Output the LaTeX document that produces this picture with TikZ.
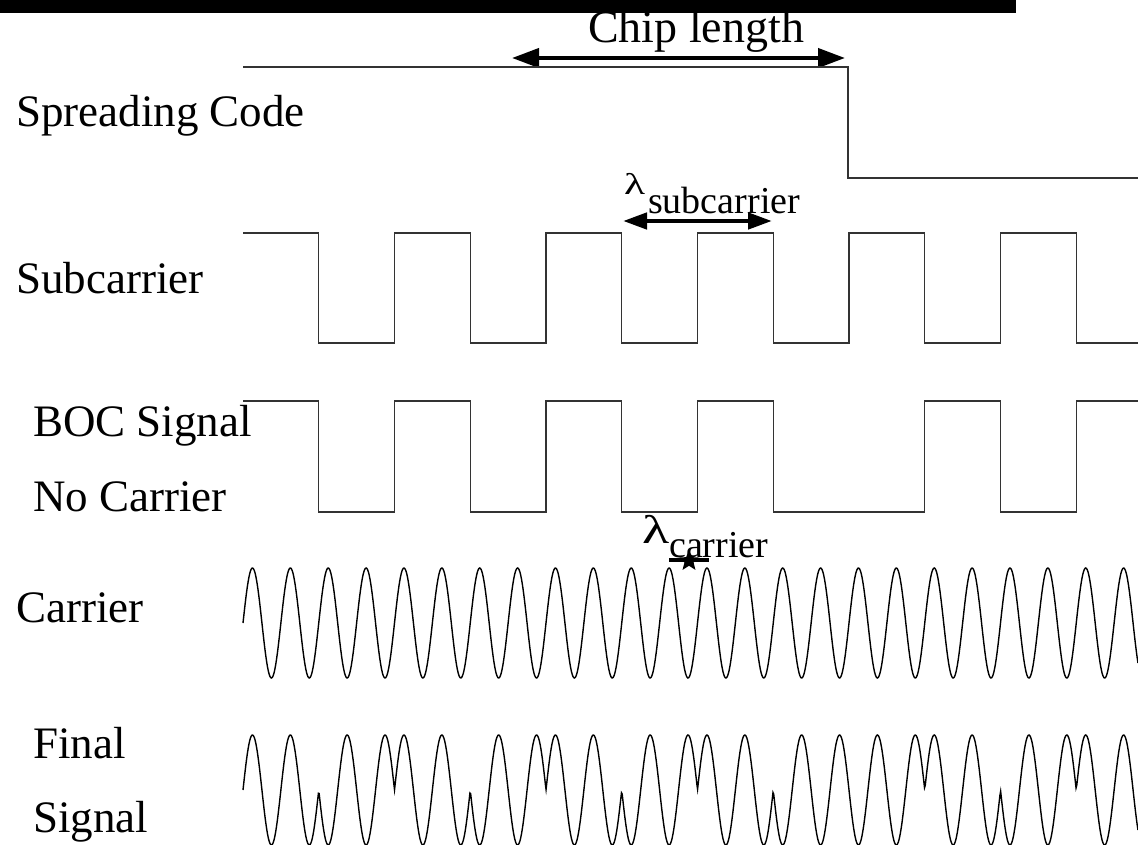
\documentclass[tikz,border=0pt]{standalone}
\usepackage{fontspec}
\setmainfont{Liberation Serif}
\usetikzlibrary{arrows.meta,shapes.geometric}
\begin{document}
\begin{tikzpicture}[x=1pt,y=-1pt,
  lbl/.style={anchor=base west,inner sep=0pt,font=\fontsize{45}{54}\selectfont},
  wave/.style={line width=1.4pt,black!80,line join=miter},
  sig/.style={line width=1.4pt,black},
  bigdim/.style={line width=4pt,{Triangle[length=27pt,width=19pt]}-{Triangle[length=27pt,width=19pt]}},
  smalldim/.style={line width=4.5pt,{Triangle[length=24pt,width=16pt]}-{Triangle[length=24pt,width=16pt]}},
  lam/.style={anchor=base west,inner sep=0pt},
]
\useasboundingbox (0,0) rectangle (1138,845);
\fill[black] (0,0) rectangle (1016,13);

% labels
\node[lbl] (sc) at (16,127) {Spreading Code};
\node[lbl] (sub) at (16,293) {Subcarrier};
\node[lbl] (boc1) at (33,436) {BOC Signal};
\node[lbl] (boc2) at (33,511) {No Carrier};
\node[lbl] (car) at (16,622) {Carrier};
\node[lbl] (fin1) at (33,758) {Final};
\node[lbl] (fin2) at (33,832) {Signal};
\node[lbl,font=\fontsize{46}{54}\selectfont] (chip) at (588,43) {Chip length};

% lambda labels
\node[lam,font=\fontsize{30}{36}\selectfont] (lsub) at (624,195) {\scalebox{1.45}[1]{λ}};
\node[lam,font=\fontsize{38}{46}\selectfont] (lsubtxt) at (648,214) {subcarrier};
\node[lam,font=\fontsize{40}{48}\selectfont] (lcar) at (642,543) {\scalebox{1.4}[1]{λ}};
\node[lam,font=\fontsize{38}{46}\selectfont] (lcartxt) at (669,557) {carrier};

% dimension arrows
\coordinate (chipL) at (512,58);
\coordinate (chipR) at (845,58);
\draw[bigdim] (chipL) -- (chipR);
\coordinate (subL) at (623,221);
\coordinate (subR) at (772,221);
\draw[smalldim] (subL) -- (subR);
\coordinate (carL) at (669,560);
\coordinate (carR) at (709,560);
\draw[line width=4pt] (carL) -- (carR);
\node[star,star points=5,star point ratio=2.3,fill=black,inner sep=0pt,minimum size=22pt] (carS) at (689,561) {};

% spreading code
\draw[wave] (243,67) -- (848,67) -- (848,178) -- (1138,178);

% subcarrier
\draw[wave] (243,233) -- (318.75,233) -- (318.75,343) -- (394.5,343) -- (394.5,233)
  -- (470.25,233) -- (470.25,343) -- (546,343) -- (546,233) -- (621.75,233)
  -- (621.75,343) -- (697.5,343) -- (697.5,233) -- (773.25,233) -- (773.25,343)
  -- (849,343) -- (849,233) -- (924.75,233) -- (924.75,343) -- (1000.5,343)
  -- (1000.5,233) -- (1076.25,233) -- (1076.25,343) -- (1138,343);

% BOC signal
\draw[wave] (243,401) -- (318.75,401) -- (318.75,512) -- (394.5,512) -- (394.5,401)
  -- (470.25,401) -- (470.25,512) -- (546,512) -- (546,401) -- (621.75,401)
  -- (621.75,512) -- (697.5,512) -- (697.5,401) -- (773.25,401) -- (773.25,512)
  -- (924.75,512) -- (924.75,401) -- (1000.5,401) -- (1000.5,512)
  -- (1076.25,512) -- (1076.25,401) -- (1138,401);

% carrier
\draw[sig] plot[domain=243:1138,samples=1200,variable=\t]
  (\t,{623-55*sin(9.50495*(\t-243))});

% final signal
\draw[sig] plot[domain=243:1138,samples=1200,variable=\t]
  (\t,{790-55*(1-2*mod(floor((\t-243)/75.75),2))*ifthenelse(\t<849,1,-1)*sin(9.50495*(\t-243))});
\end{tikzpicture}
\end{document}
